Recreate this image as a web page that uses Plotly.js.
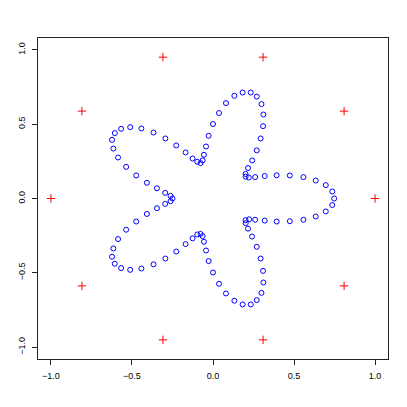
<!DOCTYPE html>
<html>
<head>
<meta charset="utf-8">
<script src="https://cdn.plot.ly/plotly-3.0.1.min.js"></script>
<style>
  html, body { margin: 0; padding: 0; background: #fff; }
  #chart { width: 407px; height: 407px; }
</style>
</head>
<body>
<div id="chart"></div>
<script>
// blue curve points
const curveX = [
  0.748, 0.736, 0.696, 0.634, 0.558, 0.474, 0.393, 0.319, 0.260, 0.221,
  0.201, 0.201, 0.216, 0.242, 0.270, 0.294, 0.309, 0.311, 0.299, 0.270,
  0.233, 0.183, 0.132, 0.080, 0.037, 0.000, -0.027, -0.043, -0.056, -0.064,
  -0.077, -0.097, -0.126, -0.169, -0.227, -0.294, -0.367, -0.442, -0.511, -0.567,
  -0.606, -0.623, -0.615, -0.586, -0.536, -0.474, -0.408, -0.346, -0.295, -0.262,
  -0.250, -0.262, -0.295, -0.346, -0.408, -0.474, -0.536, -0.586, -0.615, -0.623,
  -0.606, -0.567, -0.511, -0.442, -0.367, -0.294, -0.227, -0.169, -0.126, -0.097,
  -0.077, -0.064, -0.056, -0.043, -0.027, 0.000, 0.037, 0.080, 0.132, 0.183,
  0.233, 0.270, 0.299, 0.311, 0.309, 0.294, 0.270, 0.241, 0.216, 0.202,
  0.201, 0.223, 0.260, 0.319, 0.393, 0.474, 0.558, 0.634, 0.696, 0.736
]
const curveY = [
  0.000, 0.047, 0.090, 0.121, 0.144, 0.155, 0.156, 0.151, 0.144, 0.141,
  0.147, 0.165, 0.205, 0.256, 0.324, 0.404, 0.487, 0.565, 0.635, 0.686,
  0.713, 0.713, 0.691, 0.642, 0.575, 0.501, 0.422, 0.350, 0.294, 0.256,
  0.238, 0.247, 0.269, 0.310, 0.357, 0.404, 0.444, 0.471, 0.480, 0.469,
  0.440, 0.395, 0.336, 0.276, 0.213, 0.155, 0.106, 0.069, 0.038, 0.018,
  0.000, -0.018, -0.036, -0.065, -0.104, -0.155, -0.210, -0.273, -0.336, -0.392,
  -0.439, -0.468, -0.480, -0.471, -0.443, -0.404, -0.357, -0.307, -0.268, -0.242,
  -0.238, -0.253, -0.291, -0.350, -0.421, -0.498, -0.574, -0.639, -0.688, -0.713,
  -0.713, -0.684, -0.635, -0.565, -0.487, -0.404, -0.325, -0.256, -0.203, -0.166,
  -0.146, -0.140, -0.143, -0.149, -0.155, -0.153, -0.143, -0.121, -0.087, -0.044
]

// red crosses on the unit circle
const crossX = [1.000, 0.809, 0.309, -0.309, -0.809, -1.000, -0.809, -0.309, 0.309, 0.809]
const crossY = [0.000, 0.588, 0.951, 0.951, 0.588, 0.000, -0.588, -0.951, -0.951, -0.588]

const tickVals = [-1, -0.5, 0, 0.5, 1]
const tickText = ['\u22121.0', '\u22120.5', '0.0', '0.5', '1.0']

const curve = {
  x: curveX,
  y: curveY,
  type: 'scatter',
  mode: 'markers',
  marker: {
    symbol: 'circle-open',
    color: '#0000ff',
    size: 5,
    line: {width: 1}
  },
  hoverinfo: 'x+y'
}

const crosses = {
  x: crossX,
  y: crossY,
  type: 'scatter',
  mode: 'markers',
  marker: {
    symbol: 'cross-thin-open',
    color: '#ff0000',
    size: 6,
    line: {width: 1, color: '#ff0000'}
  },
  hoverinfo: 'x+y'
}

const axisBase = {
  tickvals: tickVals,
  ticktext: tickText,
  showgrid: false,
  zeroline: false,
  showline: true,
  mirror: true,
  linecolor: '#222',
  linewidth: 1,
  ticks: 'outside',
  ticklen: 5,
  tickwidth: 1,
  tickcolor: '#222',
  tickfont: {family: 'Liberation Sans, Arial, sans-serif', size: 9, color: '#000'}
}

const layout = {
  width: 407,
  height: 407,
  margin: {l: 38, r: 19, t: 38, b: 48},
  paper_bgcolor: '#fff',
  plot_bgcolor: '#fff',
  showlegend: false,
  xaxis: Object.assign({}, axisBase, {range: [-1.08, 1.08], ticklabelstandoff: 3}),
  yaxis: Object.assign({}, axisBase, {range: [-1.08, 1.08], tickangle: -90, ticklabelstandoff: 3})
}

Plotly.newPlot('chart', [curve, crosses], layout, {displayModeBar: false, staticPlot: true})
</script>
</body>
</html>
